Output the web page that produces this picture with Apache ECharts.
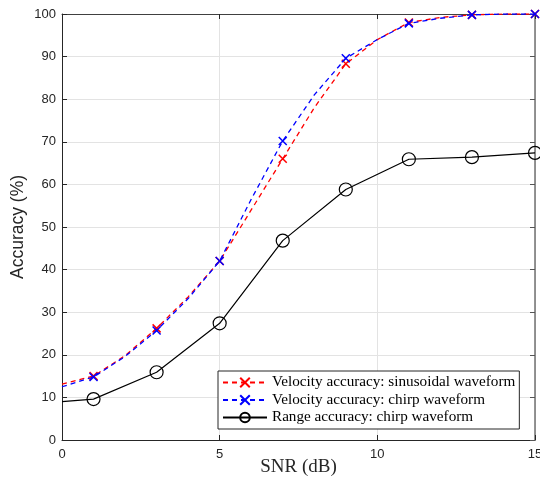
<!DOCTYPE html>
<html><head><meta charset="utf-8">
<script src="https://cdn.jsdelivr.net/npm/echarts@6/dist/echarts.min.js"></script>
<style>html,body{margin:0;padding:0;background:#fff}#c{width:540px;height:486px}</style>
</head><body><div id="c"></div>
<script>
const velX = [0,1,2,3,4,5,6,7,8,9,10,11,12,13,14,15];
const velSin = [13.1,15.0,19.8,26.2,33.6,42.0,54.0,66.0,78.0,88.3,94.0,98.0,99.2,99.8,100,100];
const velChirp = [12.5,14.8,19.6,25.7,33.2,42.0,56.5,70.2,81.0,89.6,94.0,97.8,99.0,99.8,100,100];
const rangeX = [0,1,3,5,7,9,11,13,15];
const rangeChirp = [9.0,9.6,15.9,27.4,46.8,58.8,65.9,66.4,67.4];
const markerX = [1,3,5,7,9,11,13,15];
const xTicks = [0,5,10,15];
const yTicks = [0,10,20,30,40,50,60,70,80,90,100];
const names = ['Velocity accuracy: sinusoidal waveform','Velocity accuracy: chirp waveform','Range accuracy: chirp waveform'];

const X_SYM = 'path://M0,0L10,10M10,0L0,10';
function pts(xs, ys){
  return xs.map((x,i)=> markerX.includes(x) ? {value:[x,ys[i]]} : {value:[x,ys[i]], symbol:'none'});
}
const chart = echarts.init(document.getElementById('c'));
const axisCol = '#262626';
chart.setOption({
  animation:false,
  backgroundColor:'#fff',
  grid:{left:62,right:5,top:14,bottom:46,containLabel:false,outerBoundsMode:'none'},
  xAxis:[{
    type:'value',min:0,max:15,interval:5,
    name:'SNR (dB)',nameLocation:'middle',nameGap:18,nameMoveOverlap:false,
    nameTextStyle:{fontFamily:'Liberation Serif',fontSize:19,color:'#262626'},
    axisLine:{onZero:false,lineStyle:{color:axisCol,width:1}},
    axisTick:{inside:true,length:5,lineStyle:{color:axisCol}},
    axisLabel:{fontFamily:'Liberation Sans',fontSize:13,color:'#262626',margin:8},
    splitLine:{show:true,lineStyle:{color:'#e3e3e3',width:1}}
  },{
    type:'value',min:0,max:15,interval:5,position:'top',
    axisLine:{onZero:false,lineStyle:{color:'#404040',width:1}},
    axisTick:{inside:true,length:5,lineStyle:{color:axisCol}},
    axisLabel:{show:false},splitLine:{show:false}
  }],
  yAxis:[{
    type:'value',min:0,max:100,interval:10,
    name:'Accuracy (%)',nameLocation:'middle',nameGap:35,nameMoveOverlap:false,
    nameTextStyle:{fontFamily:'Liberation Sans',fontSize:17.5,color:'#262626'},
    axisLine:{show:true,onZero:false,lineStyle:{color:axisCol,width:1}},
    axisTick:{show:true,inside:true,length:5,lineStyle:{color:axisCol}},
    axisLabel:{fontFamily:'Liberation Sans',fontSize:13,color:'#262626',margin:6},
    splitLine:{show:true,lineStyle:{color:'#e3e3e3',width:1}}
  },{
    type:'value',min:0,max:100,interval:10,position:'right',
    axisLine:{show:true,onZero:false,lineStyle:{color:'#707070',width:1.5}},
    axisTick:{show:true,inside:true,length:5,lineStyle:{color:'#555'}},
    axisLabel:{show:false},splitLine:{show:false}
  }],
  legend:{
    orient:'vertical',left:218,top:371,
    padding:[4,4,4,4],itemGap:2.5,itemWidth:44,itemHeight:12,
    backgroundColor:'#fff',borderColor:'#262626',borderWidth:1,
    textStyle:{fontFamily:'Liberation Serif',fontSize:15.2,color:'#000'},
    data:names
  },
  series:[{
    name:names[0],type:'line',data:pts(velX,velSin),
    symbol:X_SYM,symbolSize:8,
    lineStyle:{color:'#ff0000',width:1.3,type:[5,4]},
    itemStyle:{color:'none',borderColor:'#ff0000',borderWidth:1.5},
    z:3
  },{
    name:names[1],type:'line',data:pts(velX,velChirp),
    symbol:X_SYM,symbolSize:8,
    lineStyle:{color:'#0000ff',width:1.3,type:[5,4]},
    itemStyle:{color:'none',borderColor:'#0000ff',borderWidth:1.5},
    z:4
  },{
    name:names[2],type:'line',data:pts(rangeX,rangeChirp),
    symbol:'circle',symbolSize:13,
    lineStyle:{color:'#000',width:1.2},
    itemStyle:{color:'rgba(0,0,0,0)',borderColor:'#000',borderWidth:1.2},
    z:2
  }]
});
</script></body></html>
